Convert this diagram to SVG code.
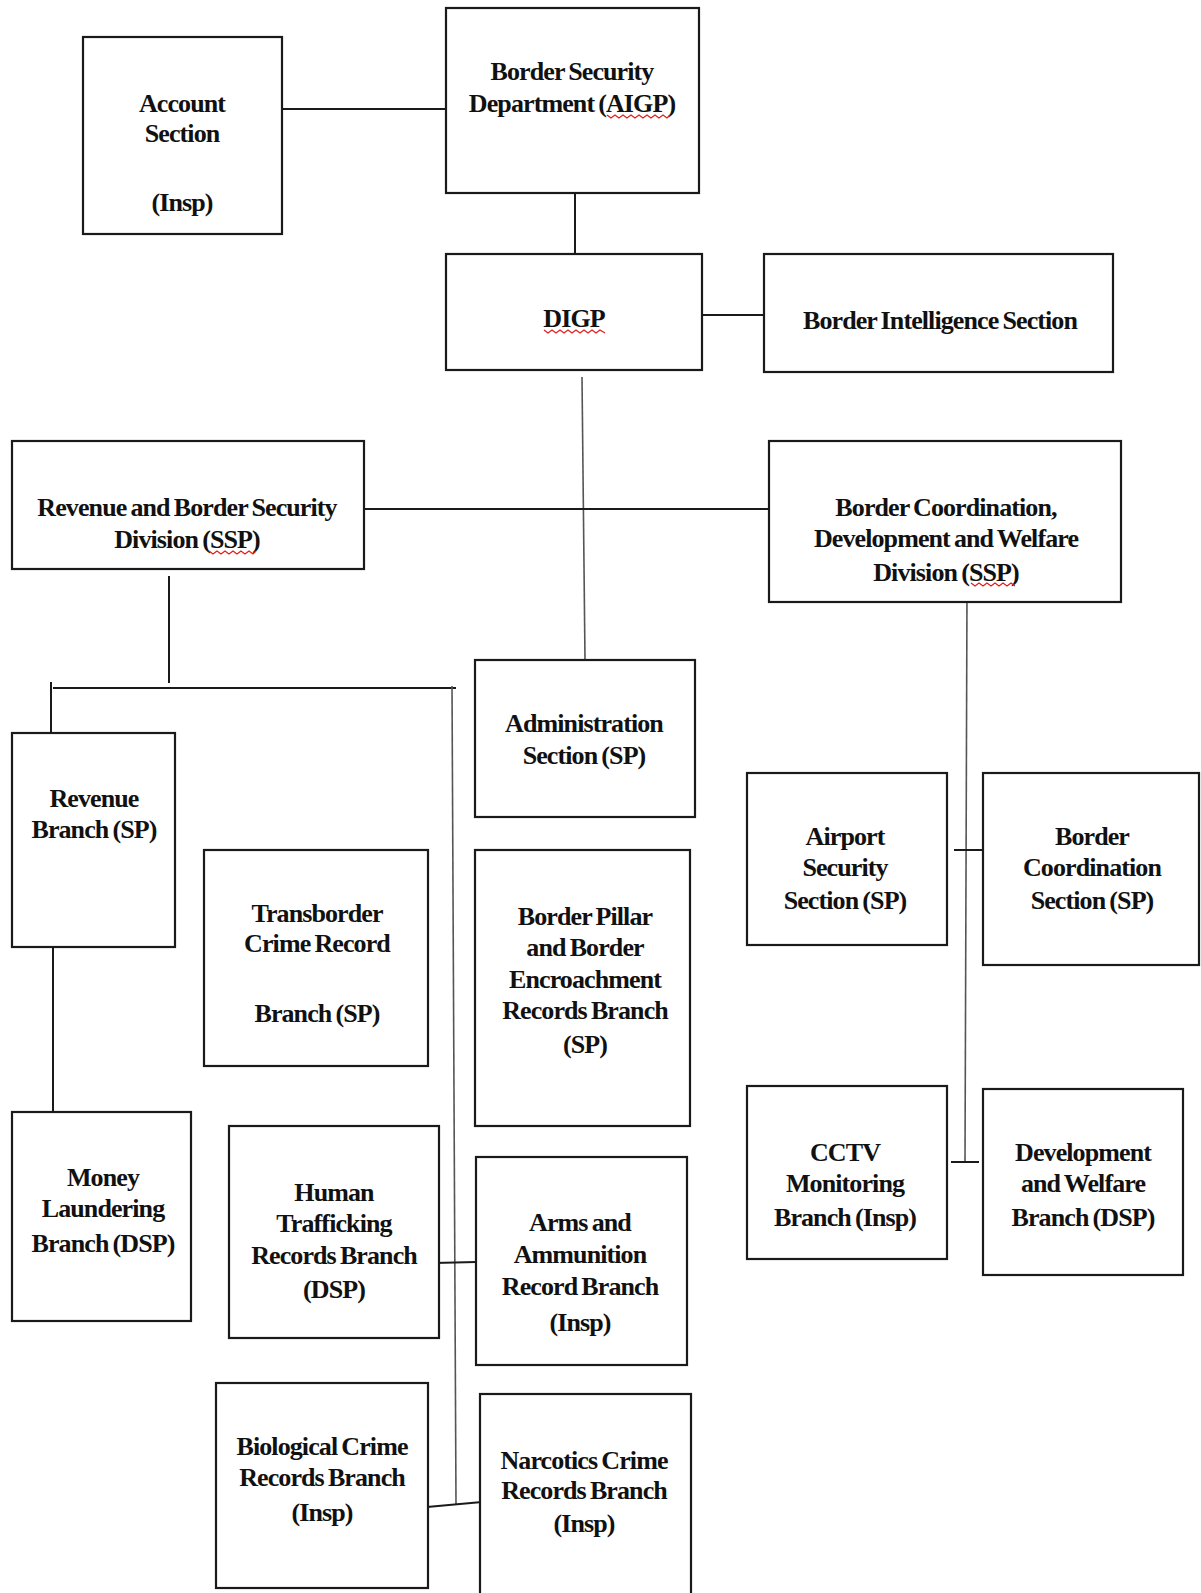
<svg xmlns="http://www.w3.org/2000/svg" width="1201" height="1593" viewBox="0 0 1201 1593">
<style>
.box{fill:#fff;stroke:#1a1a1a;stroke-width:2.2}
.t{font-family:"Liberation Serif","Times New Roman",serif;font-weight:bold;font-size:26px;letter-spacing:-0.9px;word-spacing:-1.5px;fill:#111;text-anchor:middle}
.c{stroke:#1a1a1a;stroke-width:2;fill:none}
.g{stroke:#555;stroke-width:1.6;fill:none}
.sq{stroke:#e02020;stroke-width:1.3;fill:none}
</style>
<rect width="1201" height="1593" fill="#fff"/>
<g id="connectors">
<line class="c" x1="282" y1="109" x2="446" y2="109"/>
<line class="c" x1="575" y1="193" x2="575" y2="254"/>
<line class="c" x1="702" y1="315" x2="764" y2="315"/>
<line class="g" x1="582" y1="377" x2="585" y2="660"/>
<line class="c" x1="364" y1="509" x2="769" y2="509"/>
<line class="c" x1="169" y1="576" x2="169" y2="683"/>
<line class="c" x1="53" y1="688" x2="456" y2="688"/>
<line class="c" x1="51" y1="682" x2="51" y2="733"/>
<line class="g" x1="452" y1="686" x2="456" y2="1504"/>
<line class="c" x1="53" y1="947" x2="53" y2="1112"/>
<line class="c" x1="434" y1="1263" x2="476" y2="1262"/>
<line class="c" x1="427" y1="1507" x2="482" y2="1502"/>
<line class="g" x1="967" y1="592" x2="965" y2="1162"/>
<line class="c" x1="954" y1="850" x2="983" y2="850"/>
<line class="c" x1="951" y1="1162" x2="979" y2="1162"/>
</g>
<g id="account">
<rect class="box" x="83" y="37" width="199" height="197"/>
<text class="t" x="182" y="112">Account</text>
<text class="t" x="182" y="142">Section</text>
<text class="t" x="182" y="211">(Insp)</text>
</g>
<g id="bsd">
<rect class="box" x="446" y="8" width="253" height="185"/>
<text class="t" x="572" y="80">Border Security</text>
<text class="t" x="572" y="112">Department (AIGP)</text>
<polyline class="sq" points="607,115 611,118 615,115 619,118 623,115 627,118 631,115 635,118 639,115 643,118 647,115 651,118 655,115 659,118 663,115 667,118 670,115"/>
</g>
<g id="digp">
<rect class="box" x="446" y="254" width="256" height="116"/>
<text class="t" x="574" y="327">DIGP</text>
<polyline class="sq" points="544,330 548,333 552,330 556,333 560,330 564,333 568,330 572,333 576,330 580,333 584,330 588,333 592,330 596,333 600,330 605,333"/>
</g>
<g id="bis">
<rect class="box" x="764" y="254" width="349" height="118"/>
<text class="t" x="940" y="329">Border Intelligence Section</text>
</g>
<g id="rbsd">
<rect class="box" x="12" y="441" width="352" height="128"/>
<text class="t" x="187" y="516">Revenue and Border Security</text>
<text class="t" x="187" y="548">Division (SSP)</text>
<polyline class="sq" points="209,551 213,554 217,551 221,554 225,551 229,554 233,551 237,554 241,551 245,554 249,551 253,554 256,551"/>
</g>
<g id="bcdwd">
<rect class="box" x="769" y="441" width="352" height="161"/>
<text class="t" x="946" y="516">Border Coordination,</text>
<text class="t" x="946" y="547">Development and Welfare</text>
<text class="t" x="946" y="581">Division (SSP)</text>
<polyline class="sq" points="971,583 975,586 979,583 983,586 987,583 991,586 995,583 999,586 1003,583 1007,586 1011,583 1015,586"/>
</g>
<g id="admin">
<rect class="box" x="475" y="660" width="220" height="157"/>
<text class="t" x="584" y="732">Administration</text>
<text class="t" x="584" y="764">Section (SP)</text>
</g>
<g id="revenue">
<rect class="box" x="12" y="733" width="163" height="214"/>
<text class="t" x="94" y="807">Revenue</text>
<text class="t" x="94" y="838">Branch (SP)</text>
</g>
<g id="transborder">
<rect class="box" x="204" y="850" width="224" height="216"/>
<text class="t" x="317" y="922">Transborder</text>
<text class="t" x="317" y="952">Crime Record</text>
<text class="t" x="317" y="1022">Branch (SP)</text>
</g>
<g id="pillar">
<rect class="box" x="475" y="850" width="215" height="276"/>
<text class="t" x="585" y="925">Border Pillar</text>
<text class="t" x="585" y="956">and Border</text>
<text class="t" x="585" y="988">Encroachment</text>
<text class="t" x="585" y="1019">Records Branch</text>
<text class="t" x="585" y="1053">(SP)</text>
</g>
<g id="airport">
<rect class="box" x="747" y="773" width="200" height="172"/>
<text class="t" x="845" y="845">Airport</text>
<text class="t" x="845" y="876">Security</text>
<text class="t" x="845" y="909">Section (SP)</text>
</g>
<g id="bcs">
<rect class="box" x="983" y="773" width="216" height="192"/>
<text class="t" x="1092" y="845">Border</text>
<text class="t" x="1092" y="876">Coordination</text>
<text class="t" x="1092" y="909">Section (SP)</text>
</g>
<g id="money">
<rect class="box" x="12" y="1112" width="179" height="209"/>
<text class="t" x="103" y="1186">Money</text>
<text class="t" x="103" y="1217">Laundering</text>
<text class="t" x="103" y="1252">Branch (DSP)</text>
</g>
<g id="human">
<rect class="box" x="229" y="1126" width="210" height="212"/>
<text class="t" x="334" y="1201">Human</text>
<text class="t" x="334" y="1232">Trafficking</text>
<text class="t" x="334" y="1264">Records Branch</text>
<text class="t" x="334" y="1298">(DSP)</text>
</g>
<g id="arms">
<rect class="box" x="476" y="1157" width="211" height="208"/>
<text class="t" x="580" y="1231">Arms and</text>
<text class="t" x="580" y="1263">Ammunition</text>
<text class="t" x="580" y="1295">Record Branch</text>
<text class="t" x="580" y="1331">(Insp)</text>
</g>
<g id="cctv">
<rect class="box" x="747" y="1086" width="200" height="173"/>
<text class="t" x="845" y="1161">CCTV</text>
<text class="t" x="845" y="1192">Monitoring</text>
<text class="t" x="845" y="1226">Branch (Insp)</text>
</g>
<g id="devwelfare">
<rect class="box" x="983" y="1089" width="200" height="186"/>
<text class="t" x="1083" y="1161">Development</text>
<text class="t" x="1083" y="1192">and Welfare</text>
<text class="t" x="1083" y="1226">Branch (DSP)</text>
</g>
<g id="biological">
<rect class="box" x="216" y="1383" width="212" height="205"/>
<text class="t" x="322" y="1455">Biological Crime</text>
<text class="t" x="322" y="1486">Records Branch</text>
<text class="t" x="322" y="1521">(Insp)</text>
</g>
<g id="narcotics">
<rect class="box" x="480" y="1394" width="211" height="210"/>
<text class="t" x="584" y="1469">Narcotics Crime</text>
<text class="t" x="584" y="1499">Records Branch</text>
<text class="t" x="584" y="1532">(Insp)</text>
</g>
</svg>
